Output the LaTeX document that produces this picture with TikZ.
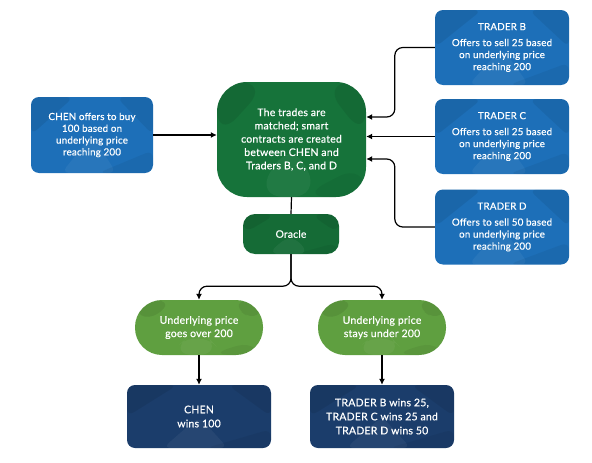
\documentclass[tikz,border=0pt]{standalone}
\usepackage{fontspec}
\setmainfont{Lato}[FakeBold=0.5,LetterSpace=2]
\usetikzlibrary{arrows.meta,calc}
\definecolor{bluebox}{HTML}{1D6FB8}
\definecolor{greenmain}{HTML}{16733A}
\definecolor{greenoracle}{HTML}{156B36}
\definecolor{greenlight}{HTML}{5F9F40}
\definecolor{navybox}{HTML}{1B3D6B}
\tikzset{
  facets/.style={path picture={
    \coordinate (pa) at (path picture bounding box.north west);
    \coordinate (pb) at (path picture bounding box.south east);
    \fill[black,opacity=0.08] (pa) -- ($(pa)!0.5!(pb -| pa)$) -- ($(pa)!0.35!(pa -| pb)$) -- cycle;
    \fill[black,opacity=0.07] ($(pa -| pb)!0.3!(pa)$) -- (pa -| pb) -- ($(pb)!0.5!(pa -| pb)$) -- cycle;
    \fill[white,opacity=0.05] ($(pb -| pa)!0.25!(pb)$) -- ($(pa)!0.5!(pb)$) -- ($(pb -| pa)!0.7!(pb)$) -- cycle;
    \fill[black,opacity=0.05] ($(pb)!0.45!(pb -| pa)$) -- (pb) -- ($(pb)!0.3!(pa -| pb)$) -- cycle;
  }},
  box/.style={draw=none, text=white, align=center, inner sep=0pt, facets, font=\fontsize{9.8}{11.8}\selectfont},
  bluenode/.style={box, fill=bluebox, rounded corners=8pt, minimum width=122pt, minimum height=76pt},
  tradernode/.style={box, fill=bluebox, rounded corners=8pt, minimum width=134pt, minimum height=75pt, font=\fontsize{9.8}{12}\selectfont},
  mainnode/.style={box, fill=greenmain, rounded corners=30pt, minimum width=149pt, minimum height=115pt, font=\fontsize{10.5}{13.3}\selectfont},
  oraclenode/.style={box, fill=greenoracle, rounded corners=12pt, minimum width=96pt, minimum height=40pt, font=\fontsize{10.3}{12}\selectfont},
  pillnode/.style={box, fill=greenlight, rounded corners=27pt, minimum width=128pt, minimum height=55pt, font=\fontsize{10.5}{13.3}\selectfont},
  navynode/.style={box, fill=navybox, rounded corners=8pt, minimum width=144pt, minimum height=63pt, font=\fontsize{10.5}{14}\selectfont},
  arr/.style={draw=black, line width=1.2pt, -{Latex[length=6pt,width=6pt]}},
  ln/.style={draw=black, line width=1.2pt},
}
\begin{document}
\begin{tikzpicture}[x=1pt,y=-1pt]
\useasboundingbox (0,0) rectangle (592,463);
\node[bluenode] (chen) at (92,135) {CHEN offers to buy\\100 based on\\underlying price\\reaching 200};
\node[mainnode] (main) at (291.5,139.5) {The trades are\\matched; smart\\contracts are created\\between CHEN and\\Traders B, C, and D};
\node[tradernode] (tb) at (502,47.5) {TRADER B\\[4pt]Offers to sell 25 based\\on underlying price\\reaching 200};
\node[tradernode] (tc) at (502,136.5) {TRADER C\\[4pt]Offers to sell 25 based\\on underlying price\\reaching 200};
\node[tradernode] (td) at (502,227) {TRADER D\\[4pt]Offers to sell 50 based\\on underlying price\\reaching 200};
\node[oraclenode] (oracle) at (291,234) {Oracle};
\node[pillnode] (gl) at (199,327.5) {Underlying price\\goes over 200};
\node[pillnode] (gr) at (382,327.5) {Underlying price\\stays under 200};
\node[navynode] (wl) at (199,416.5) {CHEN\\wins 100};
\node[navynode] (wr) at (382,416.5) {TRADER B wins 25,\\TRADER C wins 25 and\\TRADER D wins 50};

\draw[arr] (chen.east) -- (chen.east -| main.west);
\draw[arr, rounded corners=8pt] (tb.west) -- ++(-40,0) |- ($(main.east)+(0,-22.5)$);
\draw[arr] (tc.west) -- (tc.west -| main.east);
\draw[arr, rounded corners=8pt] (td.west) -- ++(-40,0) |- ($(main.east)+(0,19.5)$);
\draw[ln] (main.south) -- (oracle.north);
\draw[arr, rounded corners=8pt] (oracle.south) -- ++(0,32) -| (gl.north);
\draw[arr, rounded corners=8pt] (oracle.south) -- ++(0,32) -| (gr.north);
\draw[arr] (gl.south) -- (wl.north);
\draw[arr] (gr.south) -- (wr.north);
\end{tikzpicture}
\end{document}
